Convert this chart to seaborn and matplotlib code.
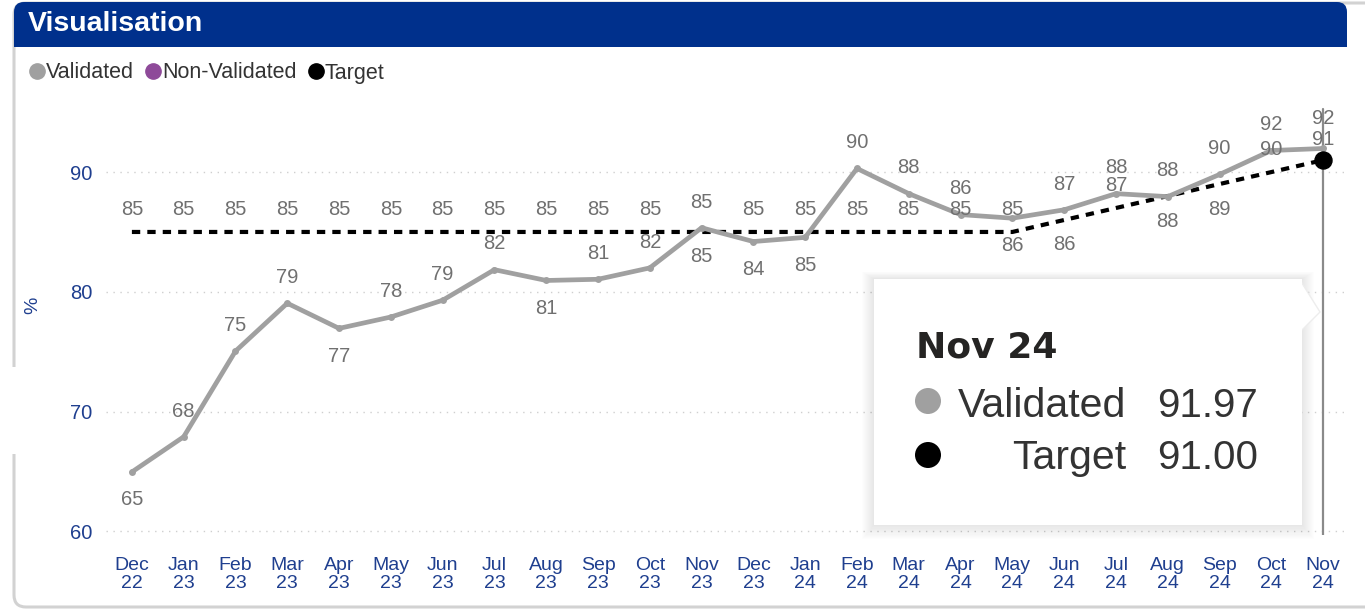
import numpy as np
import pandas as pd
import matplotlib
matplotlib.use("Agg")
import matplotlib.pyplot as plt
import seaborn as sns
from matplotlib.patches import FancyBboxPatch, Rectangle, Polygon, Circle
from matplotlib.lines import Line2D

# Data
months = ["Dec\n22", "Jan\n23", "Feb\n23", "Mar\n23", "Apr\n23", "May\n23", "Jun\n23",
          "Jul\n23", "Aug\n23", "Sep\n23", "Oct\n23", "Nov\n23", "Dec\n23", "Jan\n24",
          "Feb\n24", "Mar\n24", "Apr\n24", "May\n24", "Jun\n24", "Jul\n24", "Aug\n24",
          "Sep\n24", "Oct\n24", "Nov\n24"]
validated = [64.96, 67.9, 75.05, 79.05, 76.95, 77.9, 79.3, 81.85, 80.95, 81.05, 82.0, 85.35,
             84.2, 84.55, 90.3, 88.2, 86.45, 86.15, 86.85, 88.2, 87.95, 89.8, 91.8, 91.97]
target = [85, 85, 85, 85, 85, 85, 85, 85, 85, 85, 85, 85,
          85, 85, 85, 85, 85, 85, 86, 87, 88, 89, 90, 91]
yticks = [60, 70, 80, 90]

# label placement (1 = above the point, -1 = below), as Power BI put them
val_pos = [-1, 1, 1, 1, -1, 1, 1, 1, -1, 1, 1, 1, -1, -1, 1, 1, 1, -1, 1, 1, 1, 1, 1, 1]
tgt_pos = [1, 1, 1, 1, 1, 1, 1, 1, 1, 1, 1, -1, 1, 1, 1, 1, 1, 1, -1, 1, -1, -1, 1, 1]

GREY = "#A0A0A0"
NAVY = "#1F3F8F"
LABEL = "#707070"

sns.set_theme(style="white")
plt.rcParams["font.family"] = ["Liberation Sans", "DejaVu Sans"]

W, H = 1365, 612
fig = plt.figure(figsize=(W / 100, H / 100), dpi=100)

# background panel (pixel coordinates)
bg = fig.add_axes([0, 0, 1, 1], zorder=-1)
bg.set_xlim(0, W)
bg.set_ylim(H, 0)
bg.axis("off")
bg.add_patch(FancyBboxPatch((14, 3), 1450, 604, boxstyle="round,pad=0,rounding_size=12",
                            fc="white", ec="#D2D2D2", lw=2.2))
bg.add_patch(FancyBboxPatch((14, 2), 1333, 45, boxstyle="round,pad=0,rounding_size=10",
                            fc="#00308C", ec="none"))
bg.add_patch(Rectangle((14, 25), 1333, 22, fc="#00308C", ec="none"))
bg.add_patch(Rectangle((0, 367), 19, 87, fc="white", ec="none"))
bg.text(28, 24, "Visualisation", color="white", fontsize=20.5, fontweight="bold",
        va="center", ha="left")

# main chart
left, right = 106 / W, 1349 / W
bottom, top = (H - 535) / H, (H - 105) / H
ax = fig.add_axes([left, bottom, right - left, top - bottom])
ax.patch.set_alpha(0)

x = np.arange(len(months))
df = pd.DataFrame({"x": x, "Validated": validated, "Target": target})

sns.lineplot(data=df, x="x", y="Target", ax=ax, color="black", lw=3.0,
             dashes=False, zorder=3)
ax.lines[-1].set_dashes([2.0, 1.7])
sns.lineplot(data=df, x="x", y="Validated", ax=ax, color=GREY, lw=3.4,
             marker="o", markersize=5, markeredgewidth=0, zorder=4)

# hover line and highlighted target point
ax.axvline(x[-1], ymax=0.99, color="#8A8A8A", lw=1.6, zorder=2)
ax.scatter([x[-1]], [target[-1]], s=150, color="black", zorder=6)

last = len(months) - 1
for xi, v, p in zip(x, validated, val_pos):
    off = 18.5 if p > 0 else 20
    if xi == last:
        off = 21.5
    ax.annotate(f"{v:.0f}", (xi, v), xytext=(0, off * p), textcoords="offset points",
                ha="center", va="center", fontsize=14.5, color=LABEL, zorder=5)
for xi, t, p in zip(x, target, tgt_pos):
    off = 16 if p > 0 else 18
    if xi == last:
        off = 14.5
    ax.annotate(f"{t:.0f}", (xi, t), xytext=(0, off * p), textcoords="offset points",
                ha="center", va="center", fontsize=14.5, color=LABEL, zorder=5)

ax.set_xlim(-0.5, len(months) - 0.5)
ax.set_ylim(59.7, 95.6)
ax.set_yticks(yticks)
ax.set_yticklabels([str(t) for t in yticks], color=NAVY, fontsize=14.5)
ax.set_xticks(x)
ax.set_xticklabels(months, color=NAVY, fontsize=14, linespacing=1.05)
ax.tick_params(axis="y", length=0, pad=10)
ax.tick_params(axis="x", length=0, pad=16)
ax.set_xlabel("")
ax.set_ylabel("%", color=NAVY, fontsize=14)
ax.yaxis.set_label_coords(-0.052, 0.535)
ax.grid(axis="y", color="#CFCFCF", lw=1, linestyle=(0, (1, 4)))
ax.grid(axis="x", visible=False)
for s in ax.spines.values():
    s.set_visible(False)

# legend
handles = [Line2D([], [], ls="none", marker="o", markersize=11, color=c)
           for c in [GREY, "#8E4A99", "black"]]
fig.legend(handles, ["Validated", "Non-Validated", "Target"], loc="center left",
           bbox_to_anchor=(31 / W, 1 - 73 / H), ncol=3, frameon=False, fontsize=15.5,
           handlelength=0.6, handletextpad=0.1, columnspacing=0.6, borderpad=0,
           borderaxespad=0, labelcolor="#333333")

# tooltip overlay
fg = fig.add_axes([0, 0, 1, 1], zorder=10)
fg.set_xlim(0, W)
fg.set_ylim(H, 0)
fg.axis("off")
fg.patch.set_alpha(0)
bx0, by0, bx1, by1 = 874, 279, 1302, 525
for k in range(12, 0, -1):
    fg.add_patch(Rectangle((bx0 - k, by0 - k * 0.6), bx1 - bx0 + 2 * k, by1 - by0 + k * 1.8,
                           fc="black", ec="none", alpha=0.008))
fg.add_patch(Polygon([(bx1 - 2, by0 + 1), (1320, 312), (bx1 - 2, 332)], closed=True,
                     fc="white", ec="#EDEDED", lw=1))
fg.add_patch(Rectangle((bx0, by0), bx1 - bx0, by1 - by0, fc="white", ec="none"))
fg.text(916, 358, "Nov 24", fontsize=26, fontweight="bold", color="#252423",
        va="baseline", ha="left", family="DejaVu Sans")
fg.add_patch(Circle((928, 401), 13, fc=GREY, ec="none"))
fg.add_patch(Circle((928, 455), 13, fc="black", ec="none"))
fg.text(1126, 417, "Validated", fontsize=29.5, color="#333333", va="baseline", ha="right")
fg.text(1258, 417, f"{validated[-1]:.2f}", fontsize=29, color="#333333",
        va="baseline", ha="right")
fg.text(1126, 469, "Target", fontsize=29.5, color="#333333", va="baseline", ha="right")
fg.text(1258, 469, f"{target[-1]:.2f}", fontsize=29, color="#333333",
        va="baseline", ha="right")

fig.savefig("out.png", dpi=100)
